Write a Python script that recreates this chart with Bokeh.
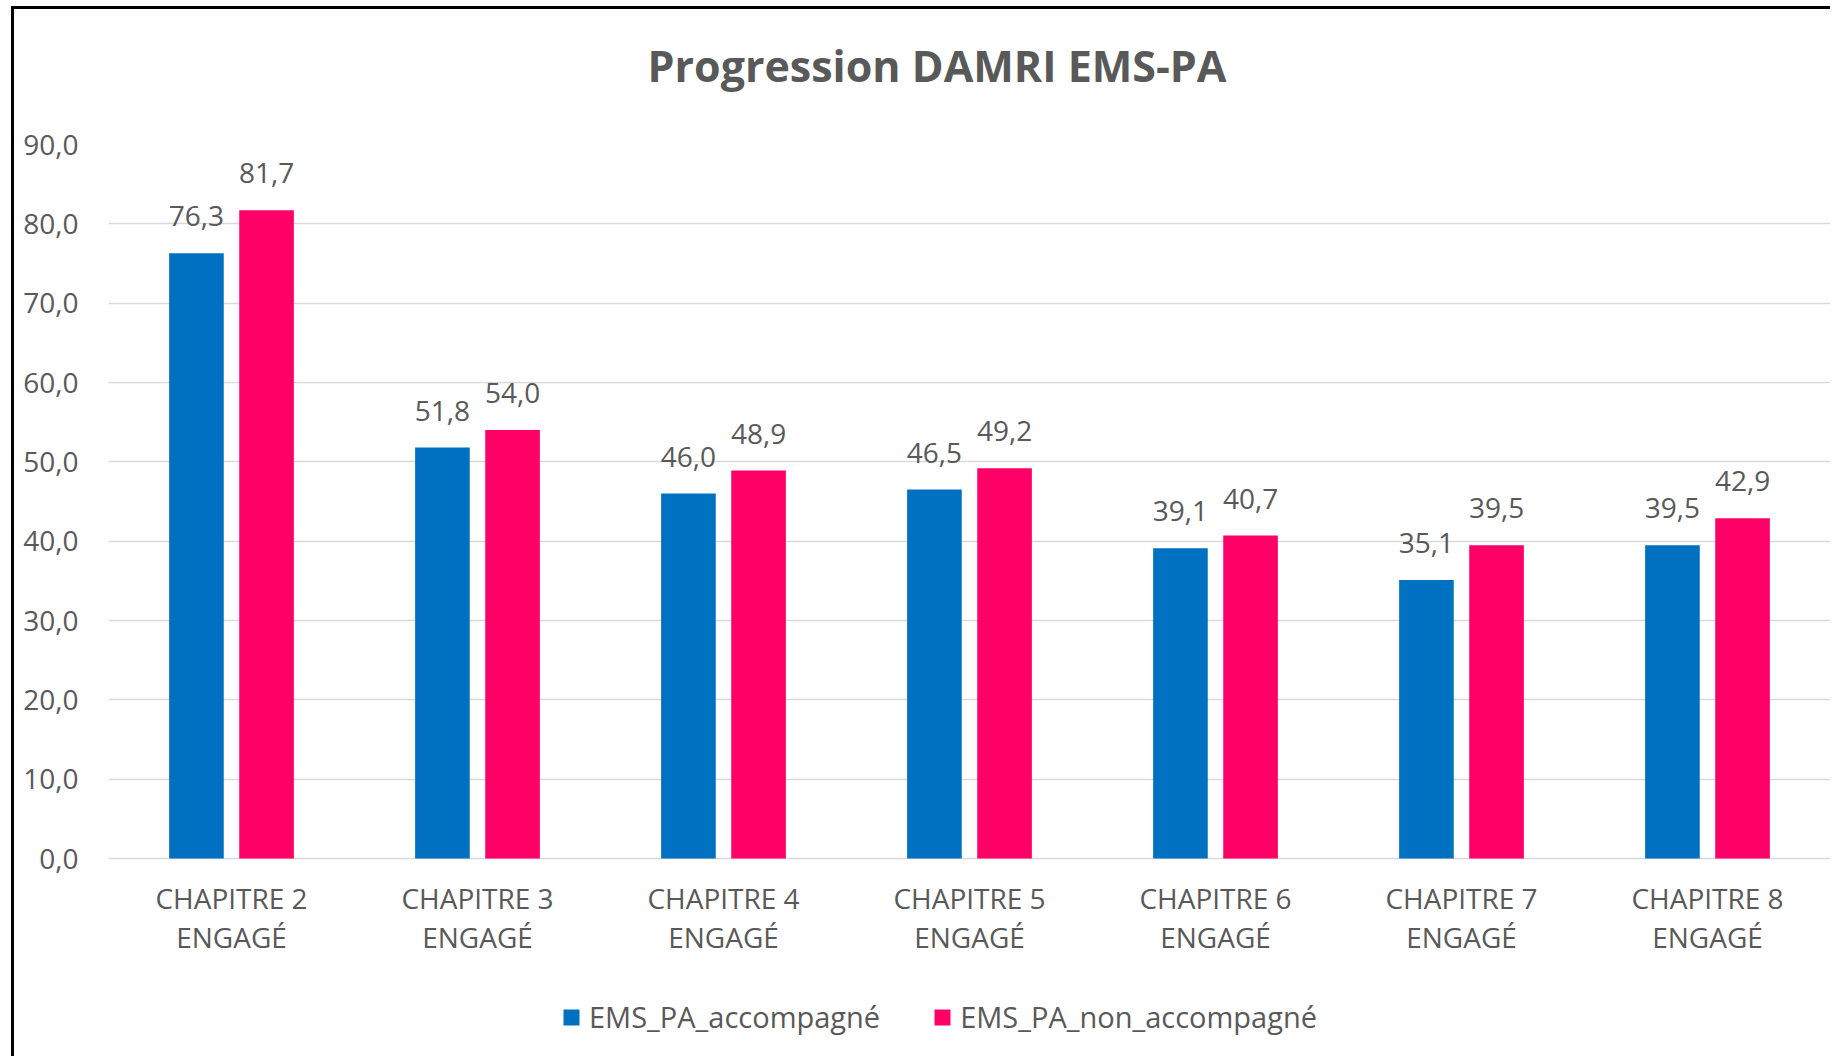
from bokeh.plotting import figure
from bokeh.models import (ColumnDataSource, FixedTicker, LabelSet, Legend, LegendItem,
                          Title, Range1d)
from bokeh.core.properties import value
from bokeh.transform import dodge
from bokeh.embed import file_html
from bokeh.resources import INLINE

# ---- data ----
categories = ["CHAPITRE 2\nENGAGÉ", "CHAPITRE 3\nENGAGÉ", "CHAPITRE 4\nENGAGÉ",
              "CHAPITRE 5\nENGAGÉ", "CHAPITRE 6\nENGAGÉ", "CHAPITRE 7\nENGAGÉ",
              "CHAPITRE 8\nENGAGÉ"]
accompagne = [76.3, 51.8, 46.0, 46.5, 39.1, 35.1, 39.5]
non_accompagne = [81.7, 54.0, 48.9, 49.2, 40.7, 39.5, 42.9]
series_names = ["EMS_PA_accompagné", "EMS_PA_non_accompagné"]
y_ticks = [0, 10, 20, 30, 40, 50, 60, 70, 80, 90]
title_text = "Progression DAMRI EMS-PA"

BLUE = "#0070C0"
PINK = "#FF0066"
GREY = "#595959"
FONT = "Open Sans"

# ---- layout (pixels) ----
W, H = 1819, 1050
TOP = 135            # space above the plotting area
AXIS_PX = 714        # height of the 0..90 value span
Y_MAX = 90
frame_h = H - TOP
y_min = Y_MAX - frame_h / AXIS_PX * Y_MAX   # room below 0 for labels & legend


def fr(v):
    return f"{v:.1f}".replace(".", ",")


idx = list(range(len(categories)))
source = ColumnDataSource(dict(
    x=idx,
    zero=[0] * len(idx),
    cat1=[c.split("\n")[0] for c in categories],
    cat2=[c.split("\n")[1] for c in categories],
    a=accompagne,
    b=non_accompagne,
    a_lbl=[fr(v) for v in accompagne],
    b_lbl=[fr(v) for v in non_accompagne],
))

p = figure(width=W, height=H, output_backend="svg", toolbar_location=None,
           x_range=Range1d(-0.5, len(categories) - 0.5),
           y_range=Range1d(y_min, Y_MAX))
p.styles = {"border-left": "3px solid black", "border-top": "3px solid black",
            "margin-left": "11px", "margin-top": "6px"}
p.min_border_left = 94
p.min_border_right = 3
p.min_border_top = TOP
p.min_border_bottom = 0
p.outline_line_color = None
p.background_fill_color = "white"
p.border_fill_color = "white"

# title: a small spacer next to the frame, then the title itself
p.title.text = ""
spacer = Title(text=" ", text_font_size="1px", standoff=42)
p.add_layout(spacer, "above")
main_title = Title(text=title_text, align="left", offset=539, standoff=10,
                   text_font=FONT, text_font_size="43px", text_font_style="bold",
                   text_color=GREY)
p.add_layout(main_title, "above")

off = 0.1425
bw = 0.222
r1 = p.vbar(x=dodge("x", -off, range=p.x_range), top="a", bottom=0, width=bw,
            source=source, fill_color=BLUE, line_color=None)
r2 = p.vbar(x=dodge("x", off, range=p.x_range), top="b", bottom=0, width=bw,
            source=source, fill_color=PINK, line_color=None)

for col, lbl, o in (("a", "a_lbl", -off), ("b", "b_lbl", off)):
    ls = LabelSet(x=dodge("x", o, range=p.x_range), y=col, text=lbl, source=source,
                  text_align="center", text_baseline="alphabetic", y_offset=27,
                  text_font=value(FONT), text_font_size=value("28px"),
                  text_color=GREY)
    p.add_layout(ls)

# category labels under the bars (two centred lines)
for col, yo in (("cat1", -20), ("cat2", -59)):
    cl = LabelSet(x="x", y="zero", text=col, source=source,
                  text_align="center", text_baseline="top", y_offset=yo,
                  text_font=value(FONT), text_font_size=value("28px"),
                  text_color=GREY)
    p.add_layout(cl)

# axes
p.xaxis.visible = False

p.yaxis.ticker = FixedTicker(ticks=y_ticks)
p.yaxis.major_label_overrides = {t: fr(t) for t in y_ticks}
p.yaxis.major_label_text_font = FONT
p.yaxis.major_label_text_font_size = "28px"
p.yaxis.major_label_text_color = GREY
p.yaxis.major_label_standoff = 30
p.yaxis.major_tick_out = 0
p.yaxis.major_tick_in = 0
p.yaxis.minor_tick_out = 0
p.yaxis.minor_tick_in = 0
p.yaxis.axis_line_color = None
p.yaxis.major_tick_line_color = None
p.yaxis.minor_tick_line_color = None

p.xgrid.grid_line_color = None
p.ygrid.grid_line_color = "#d9d9d9"
p.ygrid.grid_line_width = 1.5

legend = Legend(items=[LegendItem(label=series_names[0], renderers=[r1]),
                       LegendItem(label=series_names[1], renderers=[r2])],
                orientation="horizontal", location=(453, 23),
                padding=0, margin=0, spacing=52, label_standoff=8,
                glyph_width=20, glyph_height=20,
                border_line_color=None, background_fill_alpha=0,
                label_text_font=FONT, label_text_font_size="29px",
                label_text_color=GREY)
p.add_layout(legend, "center")

open("out.html", "w").write(file_html(p, INLINE))
